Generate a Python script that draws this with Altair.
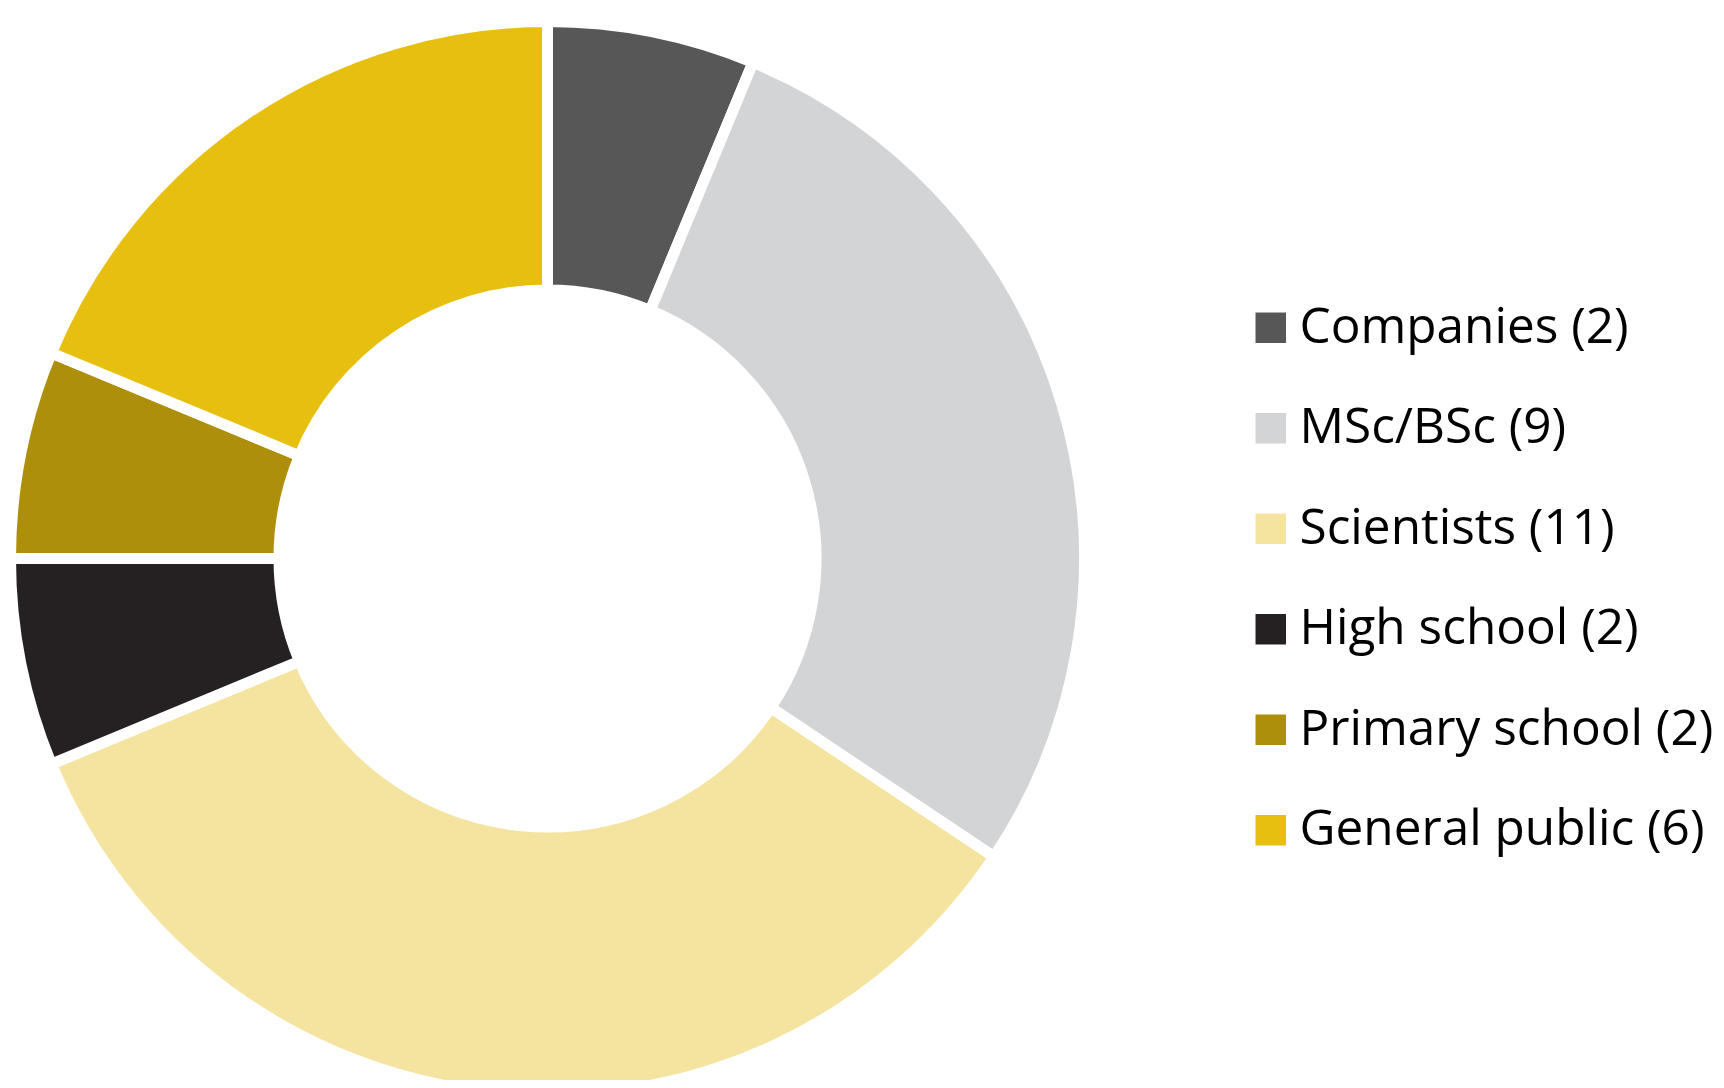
import altair as alt
import pandas as pd

categories = ["Companies", "MSc/BSc", "Scientists", "High school", "Primary school", "General public"]
counts = [2, 9, 11, 2, 2, 6]
colors = ["#575757", "#d3d4d6", "#f5e4a0", "#252122", "#ae8f0c", "#e7bf0f"]

labels = [f"{c} ({n})" for c, n in zip(categories, counts)]
df = pd.DataFrame({"label": labels, "count": counts, "idx": list(range(len(labels)))})

chart = alt.Chart(df).mark_arc(
    outerRadius=537, innerRadius=268.5, stroke="white", strokeWidth=11
).encode(
    theta=alt.Theta("count:Q", stack=True),
    order=alt.Order("idx:Q"),
    color=alt.Color(
        "label:N",
        scale=alt.Scale(domain=labels, range=colors),
        sort=labels,
        legend=alt.Legend(
            title=None,
            orient="none",
            legendX=1238,
            legendY=295,
            symbolType="square",
            symbolSize=930,
            symbolStrokeWidth=0,
            labelFontSize=49.5,
            labelFont="Open Sans",
            labelColor="black",
            labelLimit=700,
            labelOffset=4,
            rowPadding=49.5,
        ),
    ),
    x=alt.value(539.5),
    y=alt.value(550.5),
).properties(
    width=1708, height=1072, autosize=alt.AutoSizeParams(type="none"), padding=0
).configure_view(stroke=None)

chart.save("out.html", embed_options={"renderer": "svg", "actions": False})
